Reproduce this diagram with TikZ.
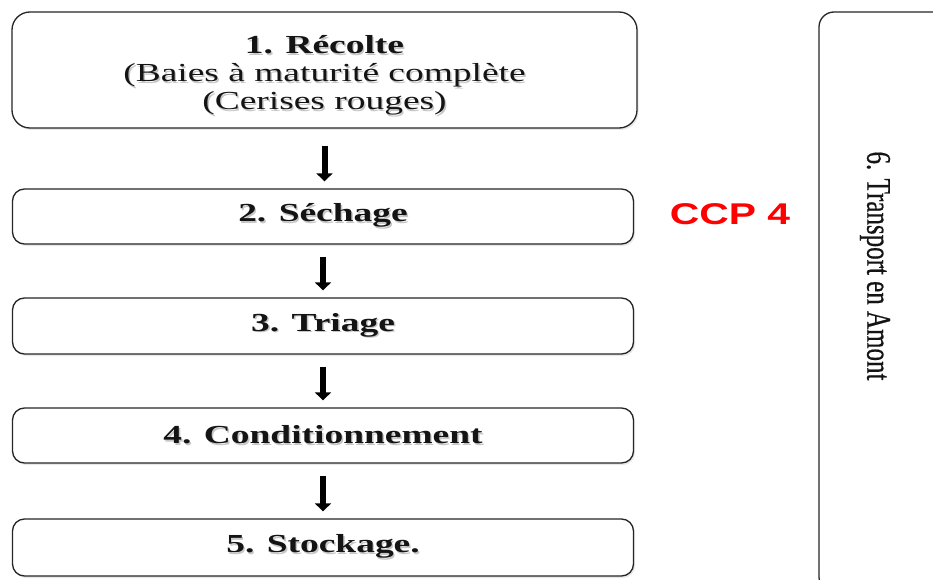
\documentclass[tikz,border=0pt]{standalone}
\usepackage{fontspec}
\setmainfont{Liberation Serif}
\newfontfamily\ccpfont{Liberation Sans}
\newfontfamily\sidefont[FakeBold=0.6]{Liberation Serif}
\usetikzlibrary{arrows.meta,shadows}

% wide serif lettering with a soft grey shadow under it
\newcommand{\widetext}[1]{\scalebox{1.44}[1]{#1}}
\newcommand{\shtext}[1]{\widetext{\rlap{\kern1pt\raisebox{-1.5pt}{\color{black!22}#1}}#1}}

\tikzset{
  stage/.style={draw=black!85, line width=1.3pt, rounded corners=12pt, fill=white,
    minimum width=621pt, inner sep=0pt, align=center, text=black!92,
    font=\fontsize{26}{28}\selectfont,
    drop shadow={opacity=0.18, shadow xshift=1.5pt, shadow yshift=-2pt}},
  flow/.style={line width=6pt, black, -{Triangle[width=16pt,length=8pt]},
    shorten <=12pt, shorten >=7pt},
}

\begin{document}
\begin{tikzpicture}[x=1pt, y=-1pt]
  \clip (0,0) rectangle (933,580);
  \fill[white] (0,0) rectangle (933,580);

  % process chain
  \node[stage, minimum width=625pt, minimum height=116pt, rounded corners=18pt] (s1) at (324.5,70)
    {\raisebox{-6pt}[\height][\depth]{\begin{tabular}{@{}c@{}}
     \shtext{\bfseries 1. Récolte}\\
     \shtext{(Baies à maturité complète}\\
     \shtext{(Cerises rouges)}\end{tabular}}};
  \node[stage, minimum height=55pt] (s2) at (323,216.5) {\shtext{\bfseries 2. Séchage}};
  \node[stage, minimum height=56pt] (s3) at (323,326) {\shtext{\bfseries 3. Triage}};
  \node[stage, minimum height=55pt] (s4) at (323,435.5) {\shtext{\bfseries 4. Conditionnement}};
  \node[stage, minimum height=57pt] (s5) at (323,547.5) {\shtext{\bfseries 5. Stockage.}};

  \draw[flow, shorten <=17pt] (s1.south) -- (s1.south |- s2.north);
  \draw[flow] (s2.south) -- (s3.north);
  \draw[flow] (s3.south) -- (s4.north);
  \draw[flow] (s4.south) -- (s5.north);

  % critical control point
  \node[text=red, font=\ccpfont\bfseries\fontsize{30}{36}\selectfont, inner sep=0pt] (ccp) at (730,214)
    {\scalebox{1.36}[1]{CCP 4}};

  % upstream transport, running alongside the chain
  \node[draw=black!85, line width=1.3pt, rounded corners=15pt, fill=white,
        minimum width=131pt, minimum height=580pt, inner sep=0pt] (s6) at (884.5,302) {};
  \node[rotate=-90, font=\sidefont\fontsize{25}{30}\selectfont, text=black!92, inner sep=0pt] (t6) at (875,266)
    {\scalebox{1}[1.38]{6. Transport en Amont}};
\end{tikzpicture}
\end{document}
